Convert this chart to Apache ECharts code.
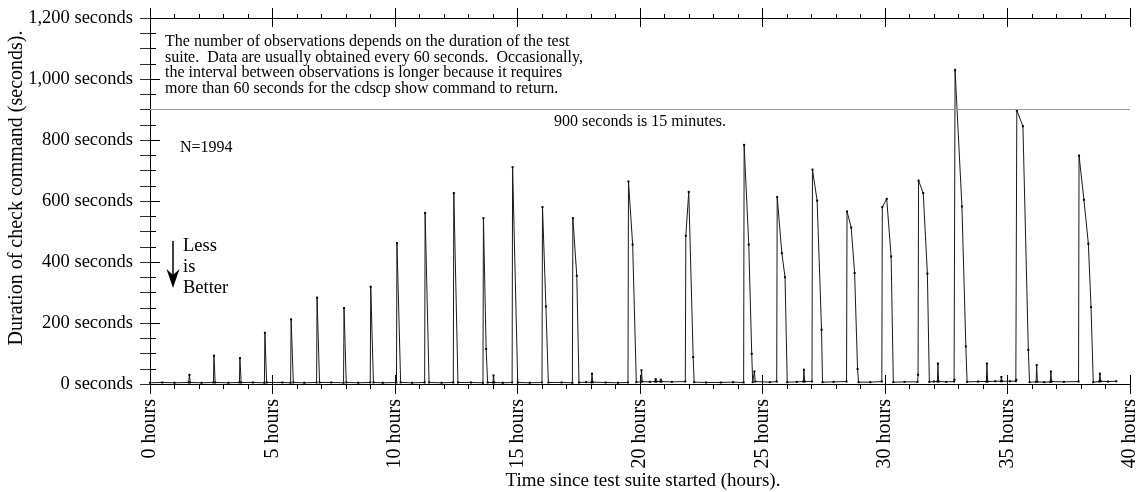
<!DOCTYPE html>
<html><head><meta charset="utf-8">
<script src="https://cdn.jsdelivr.net/npm/echarts@6/dist/echarts.min.js"></script>
<style>html,body{margin:0;padding:0;background:#fff}#c{width:1140px;height:492px}</style>
</head><body><div id="c"></div>
<script>
const obsHours = [
  0.00,0.50,1.00,1.58,1.61,1.64,2.10,2.59,2.61,2.66,
  3.20,3.65,3.67,3.72,4.20,4.67,4.69,4.76,5.40,5.74,
  5.76,5.85,6.30,6.80,6.82,6.92,7.40,7.90,7.92,8.01,
  8.50,8.99,9.01,9.12,9.50,10.06,10.08,10.23,10.70,11.21,
  11.23,11.39,11.90,12.38,12.40,12.57,13.10,13.59,13.61,13.72,
  13.78,14.00,14.02,14.05,14.40,14.78,14.80,15.01,15.50,16.00,
  16.02,16.16,16.26,16.80,17.24,17.26,17.42,17.51,17.80,18.02,
  18.04,18.07,18.60,19.10,19.51,19.53,19.70,19.85,20.04,20.06,
  20.09,20.40,20.62,20.64,20.67,20.83,20.85,20.88,21.30,21.85,
  21.87,21.99,22.17,22.21,22.70,23.30,23.80,24.23,24.25,24.44,
  24.56,24.60,24.67,24.70,25.30,25.58,25.60,25.79,25.92,26.01,
  26.40,26.67,26.69,26.72,27.02,27.04,27.23,27.41,27.45,27.90,
  28.43,28.45,28.62,28.76,28.88,28.92,29.40,29.87,29.89,30.07,
  30.25,30.34,30.80,31.33,31.35,31.37,31.56,31.73,31.81,32.00,
  32.14,32.16,32.19,32.50,32.82,32.84,32.86,33.14,33.30,33.35,
  33.80,34.14,34.16,34.19,34.50,34.73,34.75,34.78,35.10,35.34,
  35.36,35.38,35.63,35.85,35.90,36.17,36.19,36.22,36.50,36.75,
  36.77,36.80,37.30,37.90,37.92,38.12,38.30,38.41,38.50,38.75,
  38.77,38.80,39.10,39.44
];
const obsSeconds = [
  4,5,4,5,30,5,4,5,93,5,
  4,5,85,5,5,4,168,5,5,4,
  212,5,4,5,283,5,5,4,249,5,
  4,5,319,5,4,5,462,5,4,5,
  561,5,4,5,626,5,5,4,544,115,
  5,5,28,5,4,5,711,5,4,5,
  580,254,5,5,4,544,355,5,6,5,
  34,6,5,4,5,664,457,6,7,45,
  8,7,8,16,8,8,14,8,7,8,
  486,630,88,6,5,5,6,5,784,457,
  99,6,41,8,6,8,613,429,350,6,
  7,8,47,8,8,703,601,178,6,7,
  8,566,513,364,49,6,6,8,580,607,
  418,6,7,7,30,667,626,362,7,8,
  8,67,8,7,8,14,1030,582,123,7,
  8,8,67,8,9,9,23,9,9,9,
  14,897,845,112,6,7,62,7,6,7,
  41,8,7,8,749,604,460,252,6,8,
  34,9,8,9
];
const xTickLabels = ['0 hours','5 hours','10 hours','15 hours','20 hours','25 hours','30 hours','35 hours','40 hours'];
const yTickLabels = ['0 seconds','200 seconds','400 seconds','600 seconds','800 seconds','1,000 seconds','1,200 seconds'];
const refLineValue = 900;
const refLineLabel = '900 seconds is 15 minutes.';
const noteLines = [
  'The number of observations depends on the duration of the test',
  'suite.  Data are usually obtained every 60 seconds.  Occasionally,',
  'the interval between observations is longer because it requires',
  'more than 60 seconds for the cdscp show command to return.'
];
const countLabel = 'N=1994';
const betterLines = ['Less', 'is', 'Better'];
const xTitle = 'Time since test suite started (hours).';
const yTitle = 'Duration of check command (seconds).';

const FF = '"Liberation Serif", "DejaVu Serif", serif';
const data = obsHours.map((h, i) => [h, obsSeconds[i]]);

const chart = echarts.init(document.getElementById('c'), null, {renderer: 'canvas'});
const black = '#000';
const baseX = {type: 'value', min: 0, max: 40, interval: 5, splitLine: {show: false}, minorSplitLine: {show: false}};
chart.setOption({
  animation: false,
  backgroundColor: '#fff',
  grid: {left: 150, right: 5, top: 18, bottom: 108, containLabel: false},
  xAxis: [
    Object.assign({}, baseX, {
      position: 'bottom',
      axisLine: {show: true, lineStyle: {color: black, width: 1}},
      axisTick: {show: true, inside: false, length: 10, lineStyle: {color: black}},
      minorTick: {show: true, splitNumber: 5, length: 5, lineStyle: {color: black}},
      axisLabel: {show: true, rotate: 90, margin: 15, fontFamily: FF, fontSize: 20, color: black,
        formatter: v => xTickLabels[Math.round(v / 5)]}
    }),
    Object.assign({}, baseX, {
      position: 'bottom', axisLine: {show: false},
      axisTick: {show: true, inside: true, length: 9, lineStyle: {color: black}},
      axisLabel: {show: false}
    }),
    Object.assign({}, baseX, {
      position: 'top',
      axisLine: {show: true, lineStyle: {color: black, width: 1}},
      axisTick: {show: true, inside: false, length: 10, lineStyle: {color: black}},
      minorTick: {show: true, splitNumber: 5, length: 4, lineStyle: {color: black}},
      axisLabel: {show: false}
    }),
    Object.assign({}, baseX, {
      position: 'top', axisLine: {show: false},
      axisTick: {show: true, inside: true, length: 9, lineStyle: {color: black}},
      axisLabel: {show: false}
    })
  ],
  yAxis: [
    {
      type: 'value', position: 'left', min: 0, max: 1200, interval: 200,
      axisLine: {show: true, lineStyle: {color: black, width: 1}},
      axisTick: {show: true, inside: true, length: 10, lineStyle: {color: black}},
      minorTick: {show: true, splitNumber: 4, length: 6, lineStyle: {color: black}},
      splitLine: {show: false}, minorSplitLine: {show: false},
      axisLabel: {show: true, margin: 17, fontFamily: FF, fontSize: 18.5, color: black,
        formatter: v => yTickLabels[Math.round(v / 200)]}
    },
    {
      type: 'value', position: 'right', min: 0, max: 1200, interval: 50,
      axisLine: {show: true, lineStyle: {color: black, width: 1}},
      axisTick: {show: true, inside: true, length: 10, lineStyle: {color: '#333'}},
      splitLine: {show: false}, axisLabel: {show: false}
    }
  ],
  series: [{
    type: 'line', xAxisIndex: 0, yAxisIndex: 0, data: data,
    symbol: 'rect', symbolSize: 2, showSymbol: true,
    itemStyle: {color: black},
    lineStyle: {color: '#1a1a1a', width: 1},
    silent: true,
    markLine: {
      silent: true, symbol: ['none', 'none'], animation: false,
      data: [{yAxis: refLineValue}],
      lineStyle: {color: '#999', type: 'solid', width: 1},
      label: {show: true, position: 'insideMiddleBottom', distance: 4, formatter: refLineLabel,
        fontFamily: FF, fontSize: 16, color: black}
    }
  }],
  graphic: [
    {type: 'text', left: 165, top: 34, silent: true,
      style: {text: noteLines.join('\n'), fontFamily: FF, fontSize: 16, lineHeight: 15.6, fill: black}},
    {type: 'text', left: 180, top: 140, silent: true,
      style: {text: countLabel, fontFamily: FF, fontSize: 16, fill: black}},
    {type: 'text', left: 183, top: 236, silent: true,
      style: {text: betterLines.join('\n'), fontFamily: FF, fontSize: 18.5, lineHeight: 21, fill: black}},
    {type: 'line', silent: true, shape: {x1: 173, y1: 241, x2: 173, y2: 275}, style: {stroke: black, lineWidth: 1.5}},
    {type: 'polygon', silent: true, shape: {points: [[166.5, 269], [173, 288], [179.5, 269], [173, 275]]}, style: {fill: black}},
    {type: 'text', x: 17, y: 188, rotation: Math.PI / 2, silent: true,
      style: {text: yTitle, fontFamily: FF, fontSize: 20, fill: black, align: 'center', verticalAlign: 'middle'}},
    {type: 'text', x: 643, y: 481, silent: true,
      style: {text: xTitle, fontFamily: FF, fontSize: 19, fill: black, align: 'center', verticalAlign: 'middle'}}
  ]
});
</script>
</body></html>
